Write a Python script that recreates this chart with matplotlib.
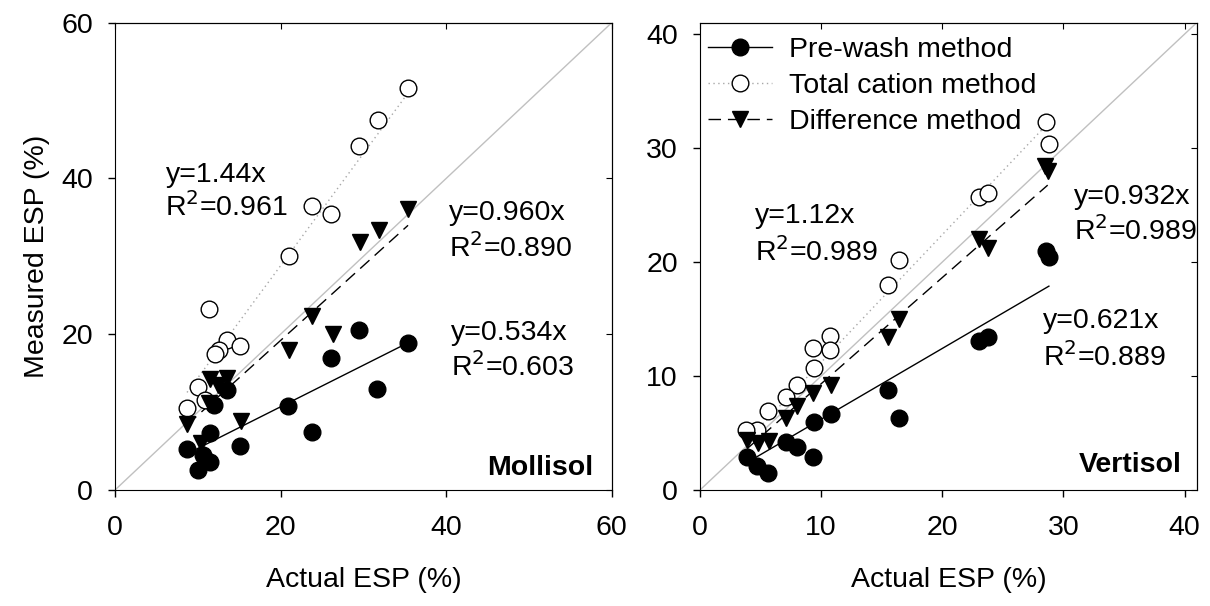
import matplotlib
matplotlib.use("Agg")
import matplotlib.pyplot as plt
import numpy as np

plt.rcParams['font.family'] = ['Liberation Sans', 'DejaVu Sans']
plt.rcParams['font.size'] = 20.5

# Mollisol data (actual ESP vs measured ESP)
mol_pw_x = [35.4, 29.5, 26.1, 31.7, 20.9, 23.8, 15.1, 13.5, 12.0, 11.5, 8.7, 11.5, 10.0, 10.6]
mol_pw_y = [18.9, 20.5, 17.0, 13.0, 10.8, 7.5, 5.6, 12.8, 10.9, 7.3, 5.3, 3.6, 2.6, 4.5]
mol_tc_x = [35.4, 31.8, 29.5, 23.8, 26.1, 21.0, 11.4, 13.5, 15.1, 12.6, 12.1, 10.0, 10.9, 8.7]
mol_tc_y = [51.6, 47.5, 44.2, 36.5, 35.4, 30.1, 23.2, 19.3, 18.5, 18.0, 17.5, 13.2, 11.6, 10.5]
mol_df_x = [35.4, 31.9, 29.6, 23.8, 26.3, 21.0, 11.5, 13.5, 12.4, 11.3, 15.2, 8.7, 10.4]
mol_df_y = [36.1, 33.4, 31.8, 22.3, 20.0, 18.0, 14.3, 14.4, 13.5, 11.2, 8.8, 8.5, 6.0]

# Vertisol data
ver_pw_x = [28.6, 28.8, 23.0, 23.8, 15.5, 16.4, 10.8, 9.4, 9.3, 8.0, 7.1, 3.9, 4.7, 5.6]
ver_pw_y = [21.0, 20.4, 13.1, 13.4, 8.8, 6.3, 6.7, 6.0, 2.9, 3.8, 4.2, 2.9, 2.1, 1.5]
ver_tc_x = [28.6, 28.8, 23.0, 23.8, 16.4, 15.5, 10.7, 10.7, 9.3, 9.4, 8.0, 7.1, 5.6, 4.7, 3.8]
ver_tc_y = [32.3, 30.4, 25.7, 26.1, 20.2, 18.0, 13.5, 12.3, 12.5, 10.7, 9.2, 8.2, 6.9, 5.3, 5.3]
ver_df_x = [28.5, 28.7, 23.0, 23.8, 16.4, 15.5, 10.8, 9.3, 8.0, 7.1, 5.7, 4.8, 3.9]
ver_df_y = [28.4, 28.0, 22.0, 21.2, 15.0, 13.4, 9.2, 8.5, 7.4, 6.3, 4.3, 4.1, 4.4]

# regression slopes (pre-wash, total cation, difference) and R2
mol_slopes = [0.534, 1.44, 0.960]
mol_r2 = [0.603, 0.961, 0.890]
ver_slopes = [0.621, 1.12, 0.932]
ver_r2 = [0.889, 0.989, 0.989]

fig = plt.figure(figsize=(12.1, 6.06), dpi=100)
ax1 = fig.add_axes([115/1210, 116/606, 496.7/1210, 467.3/606])
ax2 = fig.add_axes([700/1210, 116/606, 496.7/1210, 467.3/606])

ms = 12
styles = [dict(marker='o', mfc='black', ls='-', color='black'),
          dict(marker='o', mfc='white', ls=(0, (1, 2.5)), color='#a8a8a8'),
          dict(marker='v', mfc='black', ls=(0, (9, 5)), color='black')]
labels = ["Pre-wash method", "Total cation method", "Difference method"]


def panel(ax, data, slopes, lim, ticks):
    ax.plot([0, lim], [0, lim], color='#c0c0c0', lw=1.0, zorder=1)
    handles = []
    for (x, y), s, st, lab in zip(data, slopes, styles, labels):
        x = np.array(x)
        xx = np.array([x.min(), x.max()])
        # regression line through origin
        ax.plot(xx, s * xx, ls=st['ls'], color=st['color'], lw=1.0, zorder=2)
        ax.plot(x, y, ls='none', marker=st['marker'], ms=ms, mfc=st['mfc'],
                mec='black', mew=1.0, zorder=3)
        h, = ax.plot([], [], ls=st['ls'], color=st['color'], lw=1.0,
                     marker=st['marker'], ms=ms, mfc=st['mfc'], mec='black', mew=1.0)
        handles.append(h)
    ax.set_xlim(0, lim)
    ax.set_ylim(0, lim)
    ax.set_xticks(ticks)
    ax.set_yticks(ticks)
    ax.tick_params(axis='x', direction='out', length=5, width=1, pad=13)
    ax.tick_params(axis='y', direction='out', length=5, width=1, pad=11)
    # inside ticks on top and right
    sx = ax.secondary_xaxis('top')
    sx.set_xticks(ticks)
    sx.tick_params(direction='in', length=4, labeltop=False)
    sy = ax.secondary_yaxis('right')
    sy.set_yticks(ticks)
    sy.tick_params(direction='in', length=4, labelright=False)
    ax.set_xlabel("Actual ESP (%)", labelpad=19)
    return handles


panel(ax1, [(mol_pw_x, mol_pw_y), (mol_tc_x, mol_tc_y), (mol_df_x, mol_df_y)],
      mol_slopes, 60, [0, 20, 40, 60])
ax1.set_ylabel("Measured ESP (%)", labelpad=8)

h = panel(ax2, [(ver_pw_x, ver_pw_y), (ver_tc_x, ver_tc_y), (ver_df_x, ver_df_y)],
          ver_slopes, 41, [0, 10, 20, 30, 40])
ax2.legend(h, labels, loc='upper left', bbox_to_anchor=(0, 0.986), frameon=False,
           numpoints=1, handlelength=2.25, handletextpad=0.6, labelspacing=0.34,
           borderaxespad=0, borderpad=0.28)


def eq(ax, x, y1, y2, s, r):
    ax.text(x, y1, "y=%sx" % s, va='baseline', ha='left')
    ax.text(x, y2, "R$^{2}$=%s" % r, va='baseline', ha='left')


eq(ax1, 6.1, 39.6, 35.2, "1.44", "0.961")
eq(ax1, 40.4, 34.7, 29.9, "0.960", "0.890")
eq(ax1, 40.6, 19.2, 14.7, "0.534", "0.603")
ax1.text(57.8, 1.9, "Mollisol", fontweight='bold', ha='right', va='baseline')

eq(ax2, 4.5, 23.4, 20.1, "1.12", "0.989")
eq(ax2, 30.9, 25.1, 21.9, "0.932", "0.989")
eq(ax2, 28.3, 14.2, 10.9, "0.621", "0.889")
ax2.text(39.8, 1.6, "Vertisol", fontweight='bold', ha='right', va='baseline')

fig.savefig("out.png", dpi=100)
